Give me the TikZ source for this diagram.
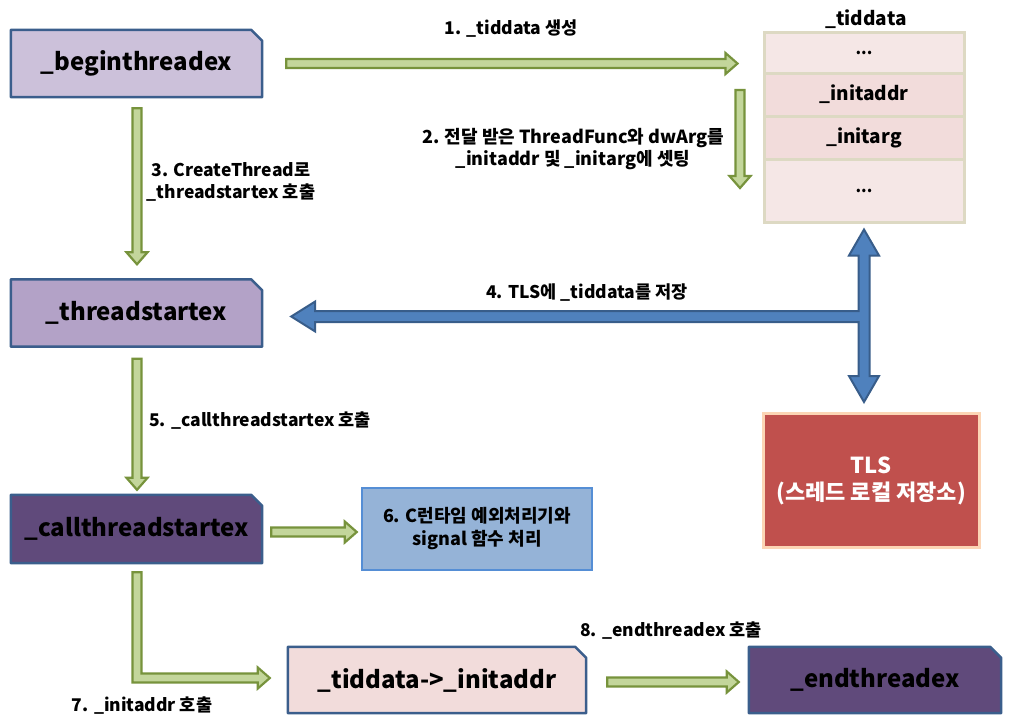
\documentclass[tikz,border=0pt]{standalone}
\usepackage{fontspec}
\setmainfont{Noto Sans CJK KR}
\usetikzlibrary{calc,backgrounds}
\definecolor{lav1}{HTML}{CCC1DA}
\definecolor{lav2}{HTML}{B3A2C7}
\definecolor{purp}{HTML}{604A7B}
\definecolor{bord}{HTML}{3B5E8C}
\definecolor{pinkf}{HTML}{F2DCDB}
\definecolor{pinkl}{HTML}{F5E7E6}
\definecolor{tanb}{HTML}{DDD9C3}
\definecolor{gfill}{HTML}{C3D69B}
\definecolor{gline}{HTML}{77933C}
\definecolor{bfill}{HTML}{4F81BD}
\definecolor{bline}{HTML}{385D8A}
\definecolor{sky}{HTML}{95B3D7}
\definecolor{skyl}{HTML}{558ED5}
\definecolor{tlsr}{HTML}{C0504D}
\definecolor{peach}{HTML}{FCD5B5}
\newcommand\snipshape[2]{\path[#2] (#1.south west) -- (#1.north west) -- ($(#1.north east)+(-11,0)$) -- ($(#1.north east)+(0,11)$) -- (#1.south east) -- cycle;}
\newcommand\RArr[2]{\draw[garrow] let \p1=(#1),\p2=(#2) in (\x1,\y1+4.5pt) -- (\x2-12pt,\y1+4.5pt) -- (\x2-12pt,\y1+10.5pt) -- (\x2,\y1) -- (\x2-12pt,\y1-10.5pt) -- (\x2-12pt,\y1-4.5pt) -- (\x1,\y1-4.5pt) -- cycle;}
\newcommand\DArr[2]{\draw[garrow] let \p1=(#1),\p2=(#2) in (\x1-4.5pt,\y1) -- (\x1-4.5pt,\y2+12pt) -- (\x1-10.5pt,\y2+12pt) -- (\x1,\y2) -- (\x1+10.5pt,\y2+12pt) -- (\x1+4.5pt,\y2+12pt) -- (\x1+4.5pt,\y1) -- cycle;}
\begin{document}
\begin{tikzpicture}[x=1pt,y=-1pt,
  mainbox/.style={minimum width=251pt, minimum height=67pt, inner sep=0pt, font=\fontsize{24}{28}\selectfont\bfseries},
  snipbox/.style={draw=bord, line width=2.5pt, line join=round},
  lbl/.style={font=\fontsize{17.5}{22}\selectfont\bfseries, align=center, inner sep=0pt},
  rowbox/.style={draw=tanb, line width=3pt, minimum width=200pt, inner sep=0pt, font=\fontsize{19}{22}\selectfont\bfseries},
  dots/.style={font=\fontsize{16}{20}\selectfont\bfseries},
  garrow/.style={fill=gfill, draw=gline, line width=2.2pt, line join=miter},
  barrow/.style={fill=bfill, draw=bline, line width=2pt, line join=miter}]
\useasboundingbox (0,0) rectangle (1009,724);

% main boxes
\node[mainbox] (begin) at (136.5,63.5) {\_beginthreadex};
\node[mainbox] (thread) at (136.5,313) {\_threadstartex};
\node[mainbox, minimum height=68pt] (call) at (136.5,529) {\_callthreadstartex};
\node[mainbox, minimum width=298pt, minimum height=66pt] (init) at (437,680) {\_tiddata->\_initaddr};
\node[mainbox, minimum width=252pt, minimum height=66pt] (endt) at (875,680) {\_endthreadex};

\node[lbl, fill=sky, draw=skyl, line width=2.5pt, minimum width=230pt, minimum height=82pt, font=\fontsize{18}{23}\selectfont\bfseries] (b6) at (477,529) {6. C런타임 예외처리기와\\signal 함수 처리};
\node[fill=tlsr, draw=peach, line width=3pt, minimum width=216pt, minimum height=134pt, text=white, align=center, inner sep=0pt, font=\fontsize{22}{27}\selectfont\bfseries] (tls) at (871,480.5) {TLS\\(스레드 로컬 저장소)};

% _tiddata table
\node[rowbox, fill=pinkl, minimum height=41pt, dots] (r1) at (864,52.5) {...};
\node[rowbox, fill=pinkf, minimum height=43pt] (r2) at (864,94.5) {\_initaddr};
\node[rowbox, fill=pinkf, minimum height=43pt] (r3) at (864,137.5) {\_initarg};
\node[rowbox, fill=pinkl, minimum height=63pt, dots] (r4) at (864,190.5) {...};
\node[lbl, font=\fontsize{19}{22}\selectfont\bfseries] (tt) at (866,19) {\_tiddata};

% labels
\node[lbl] (l1) at (511,29) {1. \_tiddata 생성};
\node[lbl, font=\fontsize{18}{22}\selectfont\bfseries] (l2) at (573,149) {2. 전달 받은 ThreadFunc와 dwArg를\\\_initaddr 및 \_initarg에 셋팅};
\node[lbl] (l3) at (231,182) {3. CreateThread로\\\_threadstartex 호출};
\node[lbl] (l4) at (587,293) {4. TLS에 \_tiddata를 저장};
\node[lbl, anchor=west] (l5) at (149,421) {5. \_callthreadstartex 호출};
\node[lbl] (l7) at (142,706) {7. \_initaddr 호출};
\node[lbl] (l8) at (671,631) {8. \_endthreadex 호출};

% green arrows
\coordinate (a1s) at ($(begin.east)+(24,0)$);
\coordinate (a1e) at ($(r1.west)+(-25,0)$);
\RArr{a1s}{a1e}
\coordinate (a2s) at ($(r1.west)+(-22.5,37.5)$);
\coordinate (a2e) at ($(r4.west)+(-22.5,-2.5)$);
\DArr{a2s}{a2e}
\coordinate (a3s) at ($(begin.south)+(0.5,11)$);
\coordinate (a3e) at ($(thread.north)+(0.5,-15)$);
\DArr{a3s}{a3e}
\coordinate (a5s) at ($(thread.south)+(0.5,12)$);
\coordinate (a5e) at ($(call.north)+(0.5,-5)$);
\DArr{a5s}{a5e}
\coordinate (a6s) at ($(call.east)+(9,3)$);
\coordinate (a6e) at ($(b6.west)+(-4,0)$);
\RArr{a6s}{a6e}
\coordinate (a8s) at ($(init.east)+(21,2)$);
\coordinate (a8e) at ($(endt.west)+(-10,0)$);
\RArr{a8s}{a8e}
\coordinate (a7s) at ($(call.south)+(0.5,9)$);
\coordinate (a7e) at ($(init.west)+(-18,-2)$);
\draw[garrow] let \p1=(a7s),\p2=(a7e) in (\x1-4.5pt,\y1) -- (\x1+4.5pt,\y1) -- (\x1+4.5pt,\y2+4.5pt) -- (\x2-12pt,\y2+4.5pt) -- (\x2-12pt,\y2+10.5pt) -- (\x2,\y2) -- (\x2-12pt,\y2-10.5pt) -- (\x2-12pt,\y2-4.5pt) -- (\x1-4.5pt,\y2-4.5pt) -- cycle;

% blue T arrow
\coordinate (bL) at ($(thread.east)+(29,3.5)$);
\coordinate (bT) at ($(r4.south)+(0,6)$);
\coordinate (bB) at ($(tls.north)+(-7,-10)$);
\draw[barrow] let \p1=(bL),\p2=(bT),\p3=(bB) in
  (\x1,\y1) -- (\x1+24pt,\y1+15pt) -- (\x1+24pt,\y1+5.5pt) -- (\x2-5.5pt,\y1+5.5pt)
  -- (\x2-5.5pt,\y2-26pt) -- (\x2-15pt,\y2-26pt) -- (\x2,\y2) -- (\x2+15pt,\y2-26pt) -- (\x2+5.5pt,\y2-26pt)
  -- (\x2+5.5pt,\y3+26pt) -- (\x2+15pt,\y3+26pt) -- (\x2,\y3) -- (\x2-15pt,\y3+26pt) -- (\x2-5.5pt,\y3+26pt)
  -- (\x2-5.5pt,\y1-5.5pt) -- (\x1+24pt,\y1-5.5pt) -- (\x1+24pt,\y1-15pt) -- cycle;

\begin{scope}[on background layer]
\fill[white] (0,0) rectangle (1009,724);
\snipshape{begin}{snipbox, fill=lav1}
\snipshape{thread}{snipbox, fill=lav2}
\snipshape{call}{snipbox, fill=purp}
\snipshape{init}{snipbox, fill=pinkf}
\snipshape{endt}{snipbox, fill=purp}
\end{scope}
\end{tikzpicture}
\end{document}
